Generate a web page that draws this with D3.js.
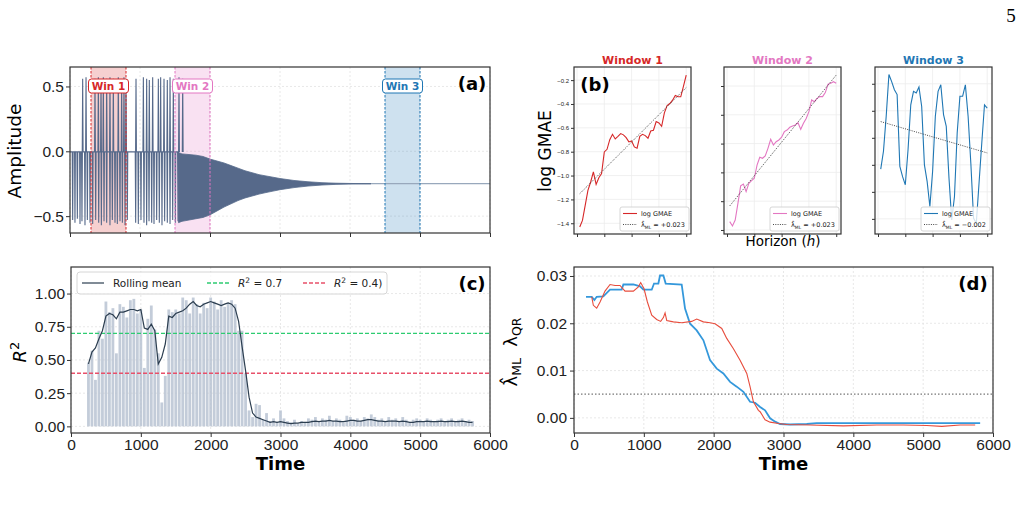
<!DOCTYPE html>
<html>
<head>
<meta charset="utf-8">
<script src="https://cdn.jsdelivr.net/npm/d3@7/dist/d3.min.js"></script>
<style>
  body { margin: 0; background: #fff; }
  svg { font-family: "DejaVu Sans", sans-serif; background: #fff; }
  .grid line { stroke: #e2e2e2; stroke-width: 0.8; stroke-dasharray: 2, 2; }
  .gridb line { stroke: #ececec; stroke-width: 0.8; }
  .frame { fill: none; stroke: #333; stroke-width: 1.2; }
  .axis path { display: none; }
  .axis line { stroke: #333; stroke-width: 1; }
  .axis text { fill: #222; }
</style>
</head>
<body>
<svg id="fig" width="1023" height="508"></svg>
<script>
// ---- panel (a): signal ----
const upSpikes = [[181,0.56],[229,0.57],[357,0.56],[405,0.57],[443,0.55],[476,0.57],[524,0.56],[571,0.57],
  [619,0.56],[690,0.57],[738,0.55],[771,0.57],[800,0.56],[943,0.56],[1048,0.57],[1095,0.56],[1133,0.55],
  [1181,0.57],[1262,0.56],[1295,0.57],[1343,0.56],[1390,0.55],[1429,0.57],[1476,0.56],[1557,0.57],[1610,0.56]];
const downSpikes = [[38,-0.53],[71,-0.55],[105,-0.52],[143,-0.56],[171,-0.54],[214,-0.57],[248,-0.53],[286,-0.55],
  [324,-0.56],[367,-0.53],[410,-0.55],[448,-0.57],[486,-0.54],[524,-0.55],[571,-0.57],[605,-0.53],[643,-0.55],
  [676,-0.56],[714,-0.54],[748,-0.55],[786,-0.57],[819,-0.53],[938,-0.55],[976,-0.56],[1014,-0.53],[1057,-0.55],
  [1095,-0.57],[1129,-0.54],[1167,-0.55],[1200,-0.56],[1238,-0.53],[1276,-0.55],[1314,-0.57],[1352,-0.54],
  [1390,-0.55],[1429,-0.56],[1467,-0.53],[1505,-0.55],[1543,-0.54]];
const baseTimes = [0, 1560];
const baseVals = [-0.005, -0.005];
const envTimes = [1550, 1600, 1700, 1800, 1900, 2000, 2100, 2200, 2300, 2400, 2500, 2600, 2700, 2800, 2900, 3000, 3200, 3400, 3600, 3800, 4000, 4300];
const envUpper = [-0.01, -0.02, -0.025, -0.03, -0.04, -0.06, -0.075, -0.09, -0.11, -0.13, -0.15, -0.165, -0.18, -0.19, -0.2, -0.21, -0.225, -0.235, -0.242, -0.246, -0.248, -0.25];
const envLower = [-0.55, -0.54, -0.53, -0.52, -0.51, -0.49, -0.46, -0.43, -0.405, -0.38, -0.36, -0.345, -0.33, -0.318, -0.307, -0.296, -0.28, -0.268, -0.26, -0.255, -0.252, -0.25];
const tailTimes = [3400, 6000];
const tailVals = [-0.25, -0.25];
const winRanges = [[300, 800], [1500, 2000], [4500, 5000]];
const winLabels = ['Win 1', 'Win 2', 'Win 3'];
const winColors = ['#d62728', '#e377c2', '#1f77b4'];

// ---- panel (b): log GMAE per horizon ----
const horizons = d3.range(1, 41);
const gmae1 = [-1.432,-1.376,-1.250,-1.124,-1.054,-0.970,-1.074,-1.018,-0.984,-0.802,-0.780,-0.699,-0.654,-0.693,
  -0.671,-0.648,-0.659,-0.682,-0.718,-0.710,-0.760,-0.771,-0.671,-0.654,-0.665,-0.687,-0.626,-0.620,-0.547,-0.559,
  -0.587,-0.475,-0.413,-0.396,-0.368,-0.329,-0.340,-0.340,-0.250,-0.158];
const gmae2 = [-1.142,-1.172,-1.131,-1.015,-0.894,-0.881,-0.934,-0.876,-0.857,-0.841,-0.749,-0.695,-0.702,-0.686,
  -0.633,-0.570,-0.610,-0.587,-0.575,-0.556,-0.517,-0.506,-0.487,-0.478,-0.471,-0.455,-0.501,-0.459,-0.425,-0.378,
  -0.297,-0.309,-0.286,-0.274,-0.274,-0.246,-0.188,-0.181,-0.170,-0.181];
const gmae3 = [-0.608,-0.575,-0.510,-0.433,-0.446,-0.461,-0.470,-0.603,-0.622,-0.637,-0.572,-0.489,-0.464,-0.467,
  -0.456,-0.492,-0.600,-0.631,-0.677,-0.612,-0.510,-0.464,-0.452,-0.507,-0.529,-0.625,-0.702,-0.659,-0.541,-0.473,
  -0.473,-0.452,-0.510,-0.597,-0.699,-0.708,-0.634,-0.560,-0.489,-0.495];
const fit1 = [-1.152, -0.262];
const fit2 = [-1.033, -0.124];
const fit3 = [-0.520, -0.578];
const lambdaLabels = ['+0.023', '+0.023', '\u22120.002'];
const gmaeTicks1 = [-1.4, -1.2, -1.0, -0.8, -0.6, -0.4, -0.2];
const gmaeTicks2 = [-1.2, -1.0, -0.8, -0.6, -0.4, -0.2];
const gmaeTicks3 = [-0.70, -0.65, -0.60, -0.55, -0.50, -0.45];
const horizonTicks = [0, 10, 20, 30, 40];

// ---- panel (c): R^2 bars + rolling mean (t = 250 ... 5750, step 50) ----
const r2Times = d3.range(250, 5800, 50);
const r2Bars = [0.48,0.57,0.35,0.72,0.66,0.94,0.86,0.89,0.55,0.92, 0.90,0.82,0.95,0.96,0.85,0.88,0.44,0.81,0.91,0.73,
  0.55,0.18,0.38,0.88,0.86,0.88,0.85,0.97,0.95,0.85, 0.97,0.92,0.85,0.93,0.89,0.97,0.94,0.88,0.95,0.90,
  0.93,0.95,0.92,0.72,0.72,0.40,0.12,0.07,0.17,0.16, 0.05,0.10,0.04,0.06,0.03,0.12,
  0.06,0.04,0.03,0.05,0.02,0.04,0.03,0.06,0.05,0.07, 0.04,0.06,0.05,0.08,0.04,0.06,0.05,0.03,0.08,0.07,
  0.05,0.06,0.04,0.07,0.06,0.09,0.07,0.05,0.06,0.04, 0.07,0.05,0.06,0.04,0.07,0.05,0.03,0.05,0.06,0.05,
  0.04,0.06,0.05,0.04,0.05,0.06,0.04,0.05,0.06,0.04, 0.05,0.06,0.04,0.05,0.04];
const r2Rolling = [0.47,0.56,0.59,0.66,0.72,0.83,0.85,0.84,0.81,0.86, 0.86,0.87,0.88,0.88,0.87,0.88,0.74,0.73,0.77,0.72,
  0.47,0.52,0.62,0.83,0.82,0.85,0.86,0.87,0.89,0.92, 0.94,0.91,0.90,0.92,0.93,0.94,0.93,0.92,0.91,0.92,
  0.93,0.92,0.89,0.79,0.60,0.42,0.22,0.10,0.07,0.06, 0.05,0.04,0.03,0.035,0.03,0.035,
  0.03,0.025,0.02,0.025,0.025,0.03,0.03,0.03,0.035,0.04, 0.035,0.04,0.04,0.045,0.04,0.04,0.035,0.035,0.04,0.045,
  0.045,0.04,0.04,0.045,0.05,0.05,0.045,0.04,0.04,0.035, 0.04,0.04,0.04,0.035,0.04,0.035,0.03,0.03,0.035,0.035,
  0.035,0.04,0.035,0.035,0.035,0.04,0.035,0.035,0.04,0.035, 0.035,0.04,0.035,0.03,0.03];
const r2Thresholds = [0.7, 0.4];
const r2Ticks = [0, 0.25, 0.5, 0.75, 1.0];
const timeTicks = [0, 1000, 2000, 3000, 4000, 5000, 6000];

// ---- panel (d): lambda estimates ----
const mlTimes = [172,254,292,325,420,516,683,707,850,946,994,1113,1146,1208,1232,1280,1313,1542,1590,1662,
  1757,1853,1948,2044,2139,2235,2330,2426,2521,2593,2665,2736,2808,2880,2951,3095,3333,3476,5816];
const mlVals = [0.0256,0.0256,0.0249,0.0256,0.0257,0.0271,0.0271,0.0282,0.0282,0.0278,0.0271,0.0271,0.0284,0.0284,
  0.0301,0.0301,0.0284,0.0282,0.0231,0.0199,0.0185,0.0164,0.0122,0.0104,0.0094,0.0076,0.0066,0.0055,0.0034,0.0032,
  0.0023,0.0016,-0.0001,-0.0008,-0.0013,-0.0014,-0.0013,-0.0011,-0.0011];
const qrTimes = [254,277,325,373,444,516,588,659,731,850,922,955,1003,1051,1113,1184,1241,1280,1304,1328,
  1423,1542,1685,1757,1853,1948,2020,2116,2187,2283,2378,2474,2521,2569,2641,2665,2736,2808,2927,3047,
  3381,3858,4336,4718,5052,5267,5530,5745];
const qrVals = [0.0256,0.0238,0.0232,0.0245,0.0268,0.0282,0.0280,0.0280,0.0268,0.0268,0.0277,0.0286,0.0273,0.0245,
  0.0217,0.0208,0.0204,0.0212,0.0222,0.0206,0.0203,0.0201,0.0204,0.0209,0.0203,0.0201,0.0199,0.0189,0.0168,0.0146,
  0.0122,0.0094,0.0066,0.0034,0.0016,0.0013,-0.0004,-0.0009,-0.0012,-0.0014,-0.0015,-0.0017,-0.0015,-0.0015,
  -0.0016,-0.0018,-0.0015,-0.0015];
const lambdaRef = 0.005;
const lambdaTicks = [0, 0.01, 0.02, 0.03];

const svg = d3.select('#fig');
const sigColor = '#56698a';

function drawFrame(g, x0, y0, x1, y1) {
  g.append('rect').attr('class', 'frame')
    .attr('x', x0).attr('y', y0).attr('width', x1 - x0).attr('height', y1 - y0);
}

function drawGrid(g, x, y, xt, yt, cls) {
  const grid = g.append('g').attr('class', cls || 'grid');
  const [xa, xb] = x.range();
  const [ya, yb] = y.range();
  grid.selectAll('.gx').data(xt).join('line').attr('class', 'gx')
    .attr('x1', x).attr('x2', x).attr('y1', ya).attr('y2', yb);
  grid.selectAll('.gy').data(yt).join('line').attr('class', 'gy')
    .attr('x1', xa).attr('x2', xb).attr('y1', y).attr('y2', y);
}

function clipFor(id, x0, y0, x1, y1) {
  svg.append('clipPath').attr('id', id).append('rect')
    .attr('x', x0).attr('y', y0).attr('width', x1 - x0).attr('height', y1 - y0);
  return 'url(#' + id + ')';
}

// ================= panel (a) =================
const ax = d3.scaleLinear().domain([0, 6000]).range([70, 490]);
const ay = d3.scaleLinear().domain([-0.63, 0.65]).range([233, 67]);
const gA = svg.append('g');
drawGrid(gA, ax, ay, timeTicks, [-0.5, 0, 0.5]);

const clipA = clipFor('clipA', 70, 67, 490, 233);
const plotA = gA.append('g').attr('clip-path', clipA);

winRanges.forEach((w, i) => {
  plotA.append('rect')
    .attr('x', ax(w[0])).attr('y', 67)
    .attr('width', ax(w[1]) - ax(w[0])).attr('height', 166)
    .attr('fill', winColors[i]).attr('fill-opacity', 0.22);
});

const lineA = d3.line().x((d) => ax(d[0])).y((d) => ay(d[1]));
plotA.append('path')
  .attr('d', lineA(tailTimes.map((t, i) => [t, tailVals[i]])))
  .attr('fill', 'none').attr('stroke', '#98a8bc').attr('stroke-width', 1.3);
plotA.append('path')
  .attr('d', lineA(baseTimes.map((t, i) => [t, baseVals[i]])))
  .attr('fill', 'none').attr('stroke', sigColor).attr('stroke-width', 1.2);

const envArea = d3.area()
  .x((d) => ax(d.t)).y0((d) => ay(d.lo)).y1((d) => ay(d.hi));
plotA.append('path')
  .attr('d', envArea(envTimes.map((t, i) => ({ t, hi: envUpper[i], lo: envLower[i] }))))
  .attr('fill', sigColor).attr('stroke', sigColor).attr('stroke-width', 0.8);

upSpikes.concat(downSpikes).forEach((s) => {
  plotA.append('path')
    .attr('d', lineA([[s[0] - 6, -0.005], [s[0], s[1]], [s[0] + 6, -0.005]]))
    .attr('fill', 'none').attr('stroke', sigColor).attr('stroke-width', 1.1);
});

winRanges.forEach((w, i) => {
  w.forEach((t) => {
    plotA.append('line')
      .attr('x1', ax(t)).attr('x2', ax(t)).attr('y1', 67).attr('y2', 233)
      .attr('stroke', winColors[i]).attr('stroke-width', 1).attr('stroke-dasharray', '2.5,1.5');
  });
  const cx = ax((w[0] + w[1]) / 2);
  plotA.append('rect')
    .attr('x', cx - 20).attr('y', 79).attr('width', 40).attr('height', 14).attr('rx', 3)
    .attr('fill', '#fff').attr('stroke', winColors[i]).attr('stroke-width', 1);
  plotA.append('text')
    .attr('x', cx).attr('y', 90).attr('text-anchor', 'middle')
    .attr('font-size', 10.5).attr('font-weight', 'bold').attr('fill', winColors[i])
    .text(winLabels[i]);
});

drawFrame(gA, 70, 67, 490, 233);
gA.append('g').attr('class', 'axis').attr('transform', 'translate(0,233)')
  .call(d3.axisBottom(ax).tickValues(timeTicks).tickSize(4).tickFormat(''));
gA.append('g').attr('class', 'axis').attr('transform', 'translate(70,0)')
  .call(d3.axisLeft(ay).tickValues([-0.5, 0, 0.5]).tickSize(4).tickPadding(2).tickFormat(d3.format('.1f')))
  .selectAll('text').attr('font-size', 15.5);
gA.append('text').attr('transform', 'translate(21,151) rotate(-90)')
  .attr('text-anchor', 'middle').attr('font-size', 18.5).text('Amplitude');
gA.append('text').attr('x', 472).attr('y', 90).attr('text-anchor', 'middle')
  .attr('font-size', 18).attr('font-weight', 'bold').text('(a)');

// ================= panel (b) =================
const subs = [
  { left: 574, data: gmae1, fit: fit1, dom: [-1.49, -0.09], ticks: gmaeTicks1, labels: true, title: 'Window 1' },
  { left: 724, data: gmae2, fit: fit2, dom: [-1.228, -0.068], ticks: gmaeTicks2, labels: false, title: 'Window 2' },
  { left: 875, data: gmae3, fit: fit3, dom: [-0.728, -0.419], ticks: gmaeTicks3, labels: false, title: 'Window 3' },
];

subs.forEach((s, i) => {
  const g = svg.append('g');
  const bx = d3.scaleLinear().domain([-1.1, 41.75]).range([s.left, s.left + 117]);
  const by = d3.scaleLinear().domain(s.dom).range([234, 67]);
  drawGrid(g, bx, by, horizonTicks, s.ticks, 'gridb');
  const clip = clipFor('clipB' + i, s.left, 67, s.left + 117, 234);
  const p = g.append('g').attr('clip-path', clip);
  const line = d3.line().x((d) => bx(d[0])).y((d) => by(d[1]));
  p.append('path')
    .attr('d', line(horizons.map((h, k) => [h, s.data[k]])))
    .attr('fill', 'none').attr('stroke', winColors[i]).attr('stroke-width', 1.1);
  p.append('path')
    .attr('d', line([[1, s.fit[0]], [40, s.fit[1]]]))
    .attr('fill', 'none').attr('stroke', '#333').attr('stroke-width', 0.9).attr('stroke-dasharray', '1,1.3');

  // legend, lower right
  const lx = s.left + 117 - 71;
  const lg = g.append('g').attr('transform', 'translate(' + lx + ',207)');
  lg.append('rect').attr('width', 69).attr('height', 24).attr('rx', 2)
    .attr('fill', '#fff').attr('fill-opacity', 0.8).attr('stroke', '#ccc').attr('stroke-width', 0.8);
  lg.append('line').attr('x1', 3).attr('x2', 17).attr('y1', 6.5).attr('y2', 6.5)
    .attr('stroke', winColors[i]).attr('stroke-width', 1.1);
  lg.append('text').attr('x', 21).attr('y', 9).attr('font-size', 6.5).attr('fill', '#222').text('log GMAE');
  lg.append('line').attr('x1', 3).attr('x2', 17).attr('y1', 17.5).attr('y2', 17.5)
    .attr('stroke', '#333').attr('stroke-width', 0.9).attr('stroke-dasharray', '1,1.3');
  const lt = lg.append('text').attr('x', 21).attr('y', 20).attr('font-size', 6.5).attr('fill', '#222');
  lt.append('tspan').text('\u03bb\u0302');
  lt.append('tspan').attr('font-size', 4.5).attr('dy', 1.5).text('ML');
  lt.append('tspan').attr('dy', -1.5).text(' = ' + lambdaLabels[i]);

  drawFrame(g, s.left, 67, s.left + 117, 234);
  g.append('g').attr('class', 'axis').attr('transform', 'translate(0,234)')
    .call(d3.axisBottom(bx).tickValues(horizonTicks).tickSize(3).tickFormat(''));
  const yAxis = d3.axisLeft(by).tickValues(s.ticks).tickSize(3).tickPadding(2)
    .tickFormat(s.labels ? d3.format('.1f') : '');
  g.append('g').attr('class', 'axis').attr('transform', 'translate(' + s.left + ',0)')
    .call(yAxis).selectAll('text').attr('font-size', 6);
  g.append('text').attr('x', s.left + 58.5).attr('y', 64).attr('text-anchor', 'middle')
    .attr('font-size', 11).attr('font-weight', 'bold').attr('fill', winColors[i]).text(s.title);
});

svg.append('text').attr('transform', 'translate(551,151) rotate(-90)')
  .attr('text-anchor', 'middle').attr('font-size', 17).text('log GMAE');
const hl = svg.append('text').attr('x', 783).attr('y', 246).attr('text-anchor', 'middle').attr('font-size', 13.5);
hl.append('tspan').text('Horizon (');
hl.append('tspan').attr('font-style', 'italic').text('h');
hl.append('tspan').text(')');
svg.append('text').attr('x', 595).attr('y', 91).attr('text-anchor', 'middle')
  .attr('font-size', 18).attr('font-weight', 'bold').text('(b)');

// ================= panel (c) =================
const cx = d3.scaleLinear().domain([0, 6000]).range([71, 490]);
const cy = d3.scaleLinear().domain([-0.05, 1.2]).range([433, 267]);
const gC = svg.append('g');
drawGrid(gC, cx, cy, timeTicks, r2Ticks);
const plotC = gC.append('g').attr('clip-path', clipFor('clipC', 71, 267, 490, 433));
const barW = cx(40) - cx(0);
plotC.selectAll('.bar').data(r2Times).join('rect').attr('class', 'bar')
  .attr('x', (t) => cx(t) - barW / 2).attr('width', barW)
  .attr('y', (t, i) => cy(r2Bars[i])).attr('height', (t, i) => cy(0) - cy(r2Bars[i]))
  .attr('fill', '#b8c3d2').attr('fill-opacity', 0.85);
const threshColors = ['#2ecc71', '#e8506a'];
r2Thresholds.forEach((v, i) => {
  plotC.append('line').attr('x1', 71).attr('x2', 490).attr('y1', cy(v)).attr('y2', cy(v))
    .attr('stroke', threshColors[i]).attr('stroke-width', 1.3).attr('stroke-dasharray', '4,2');
});
plotC.append('path')
  .attr('d', d3.line().x((t) => cx(t)).y((t, i) => cy(r2Rolling[i]))(r2Times))
  .attr('fill', 'none').attr('stroke', '#2c3e50').attr('stroke-width', 1.2);

// legend (c)
const lc = gC.append('g').attr('transform', 'translate(77,272)');
lc.append('rect').attr('width', 310).attr('height', 22).attr('rx', 3)
  .attr('fill', '#fff').attr('fill-opacity', 0.8).attr('stroke', '#ccc').attr('stroke-width', 0.8);
lc.append('line').attr('x1', 5).attr('x2', 27).attr('y1', 11).attr('y2', 11)
  .attr('stroke', '#2c3e50').attr('stroke-width', 1.2);
lc.append('text').attr('x', 36).attr('y', 15).attr('font-size', 10.5).attr('fill', '#222').text('Rolling mean');
const legR2 = [['0.7', 130], ['0.4)', 226]];
legR2.forEach((e, i) => {
  lc.append('line').attr('x1', e[1]).attr('x2', e[1] + 22).attr('y1', 11).attr('y2', 11)
    .attr('stroke', threshColors[i]).attr('stroke-width', 1.3).attr('stroke-dasharray', '4,2');
  const t = lc.append('text').attr('x', e[1] + 31).attr('y', 15).attr('font-size', 10.5).attr('fill', '#222');
  t.append('tspan').attr('font-style', 'italic').text('R');
  t.append('tspan').attr('font-size', 7.5).attr('dy', -4).text('2');
  t.append('tspan').attr('dy', 4).text(' = ' + e[0]);
});

drawFrame(gC, 71, 267, 490, 433);
gC.append('g').attr('class', 'axis').attr('transform', 'translate(0,433)')
  .call(d3.axisBottom(cx).tickValues(timeTicks).tickSize(4).tickPadding(2).tickFormat(d3.format('d')))
  .selectAll('text').attr('font-size', 15.5);
gC.append('g').attr('class', 'axis').attr('transform', 'translate(71,0)')
  .call(d3.axisLeft(cy).tickValues(r2Ticks).tickSize(4).tickPadding(2).tickFormat(d3.format('.2f')))
  .selectAll('text').attr('font-size', 15.5);
gC.append('text').attr('x', 280.5).attr('y', 470).attr('text-anchor', 'middle')
  .attr('font-size', 18).attr('font-weight', 'bold').text('Time');
const r2l = gC.append('text').attr('transform', 'translate(26,352) rotate(-90)')
  .attr('text-anchor', 'middle').attr('font-size', 18);
r2l.append('tspan').attr('font-style', 'italic').text('R');
r2l.append('tspan').attr('font-size', 13).attr('dy', -7).text('2');
gC.append('text').attr('x', 472).attr('y', 290).attr('text-anchor', 'middle')
  .attr('font-size', 18).attr('font-weight', 'bold').text('(c)');

// ================= panel (d) =================
const dx = d3.scaleLinear().domain([0, 6000]).range([574, 993]);
const dy = d3.scaleLinear().domain([-0.0032, 0.0319]).range([433, 267]);
const gD = svg.append('g');
drawGrid(gD, dx, dy, timeTicks, lambdaTicks);
const plotD = gD.append('g').attr('clip-path', clipFor('clipD', 574, 267, 993, 433));
plotD.append('line').attr('x1', 574).attr('x2', 993).attr('y1', dy(lambdaRef)).attr('y2', dy(lambdaRef))
  .attr('stroke', '#777').attr('stroke-width', 1.2).attr('stroke-dasharray', '1.5,2');
const lineD = d3.line().x((d) => dx(d[0])).y((d) => dy(d[1]));
plotD.append('path').attr('d', lineD(mlTimes.map((t, i) => [t, mlVals[i]])))
  .attr('fill', 'none').attr('stroke', '#3498db').attr('stroke-width', 1.8);
plotD.append('path').attr('d', lineD(qrTimes.map((t, i) => [t, qrVals[i]])))
  .attr('fill', 'none').attr('stroke', '#e74c3c').attr('stroke-width', 1.1);

drawFrame(gD, 574, 267, 993, 433);
gD.append('g').attr('class', 'axis').attr('transform', 'translate(0,433)')
  .call(d3.axisBottom(dx).tickValues(timeTicks).tickSize(4).tickPadding(2).tickFormat(d3.format('d')))
  .selectAll('text').attr('font-size', 15.5);
gD.append('g').attr('class', 'axis').attr('transform', 'translate(574,0)')
  .call(d3.axisLeft(dy).tickValues(lambdaTicks).tickSize(4).tickPadding(3).tickFormat(d3.format('.2f')))
  .selectAll('text').attr('font-size', 15.5);
gD.append('text').attr('x', 783.5).attr('y', 470).attr('text-anchor', 'middle')
  .attr('font-size', 18).attr('font-weight', 'bold').text('Time');
const ll = gD.append('text').attr('transform', 'translate(517,352) rotate(-90)')
  .attr('text-anchor', 'middle').attr('font-size', 18);
ll.append('tspan').text('\u03bb\u0302');
ll.append('tspan').attr('font-size', 12.5).attr('dy', 4).text('ML');
ll.append('tspan').attr('dy', -4).text('\u00a0\u00a0\u03bb');
ll.append('tspan').attr('font-size', 12.5).attr('dy', 4).text('QR');
gD.append('text').attr('x', 973).attr('y', 290).attr('text-anchor', 'middle')
  .attr('font-size', 18).attr('font-weight', 'bold').text('(d)');

// page number
svg.append('text').attr('x', 1011).attr('y', 22).attr('text-anchor', 'middle')
  .attr('font-family', 'Liberation Serif, serif').attr('font-size', 19).text('5');
</script>
</body>
</html>
